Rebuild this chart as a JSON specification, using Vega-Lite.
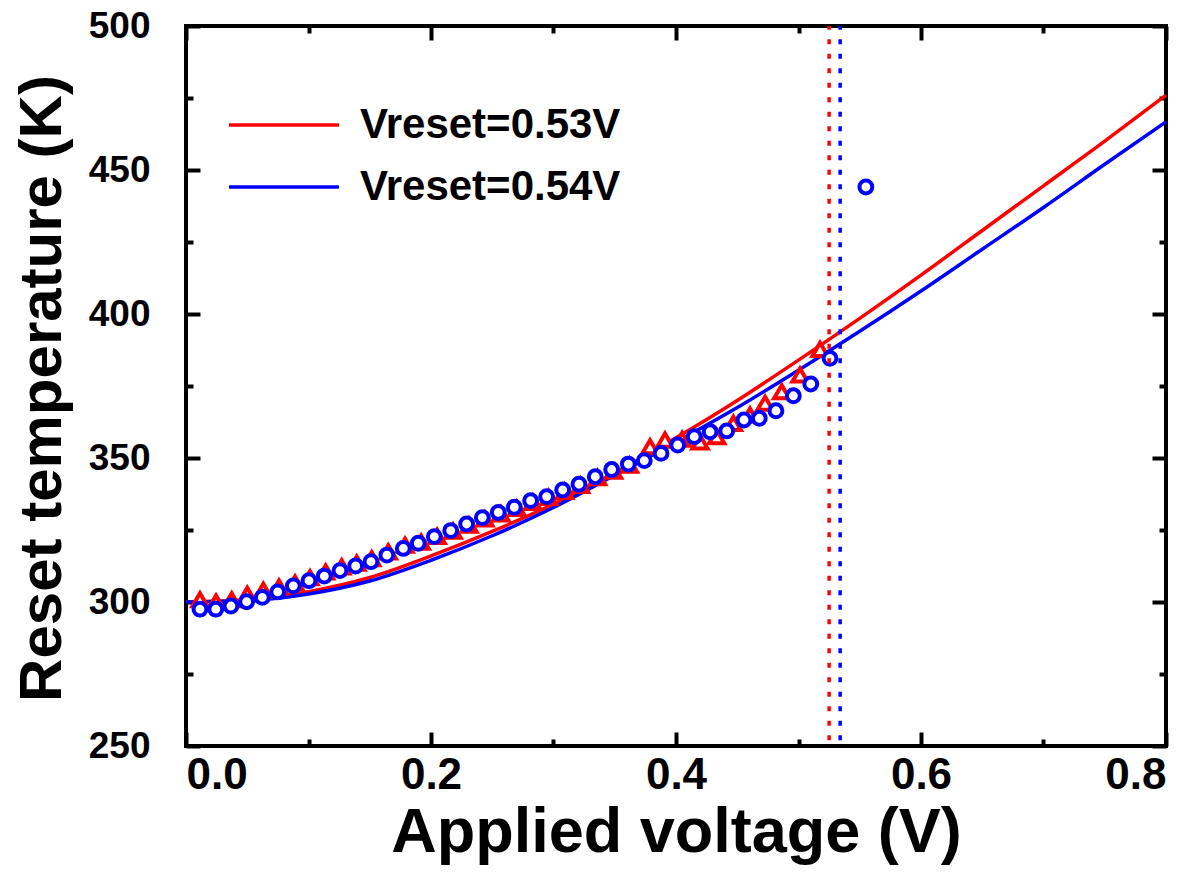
{
  "$schema": "https://vega.github.io/schema/vega-lite/v6.json",
  "width": 980,
  "height": 720,
  "autosize": {"type": "none"},
  "padding": {"left": 186, "top": 26, "right": 34, "bottom": 140},
  "background": "white",
  "config": {
    "view": {"stroke": "black", "strokeWidth": 4},
    "axis": {"domain": false, "grid": false, "tickColor": "black", "tickWidth": 4, "labelColor": "black", "titleColor": "black"}
  },
  "datasets": {
    "model": [
      {"v": 0.00, "T": 300.0, "series": "Vreset=0.53V"},
      {"v": 0.05, "T": 300.9, "series": "Vreset=0.53V"},
      {"v": 0.10, "T": 303.6, "series": "Vreset=0.53V"},
      {"v": 0.15, "T": 308.5, "series": "Vreset=0.53V"},
      {"v": 0.20, "T": 316.0, "series": "Vreset=0.53V"},
      {"v": 0.25, "T": 324.5, "series": "Vreset=0.53V"},
      {"v": 0.30, "T": 334.0, "series": "Vreset=0.53V"},
      {"v": 0.35, "T": 344.8, "series": "Vreset=0.53V"},
      {"v": 0.40, "T": 357.0, "series": "Vreset=0.53V"},
      {"v": 0.45, "T": 370.0, "series": "Vreset=0.53V"},
      {"v": 0.50, "T": 384.0, "series": "Vreset=0.53V"},
      {"v": 0.55, "T": 398.5, "series": "Vreset=0.53V"},
      {"v": 0.60, "T": 413.5, "series": "Vreset=0.53V"},
      {"v": 0.65, "T": 429.0, "series": "Vreset=0.53V"},
      {"v": 0.70, "T": 444.5, "series": "Vreset=0.53V"},
      {"v": 0.75, "T": 460.0, "series": "Vreset=0.53V"},
      {"v": 0.80, "T": 476.0, "series": "Vreset=0.53V"},
      {"v": 0.00, "T": 300.0, "series": "Vreset=0.54V"},
      {"v": 0.05, "T": 300.5, "series": "Vreset=0.54V"},
      {"v": 0.10, "T": 302.8, "series": "Vreset=0.54V"},
      {"v": 0.15, "T": 307.3, "series": "Vreset=0.54V"},
      {"v": 0.20, "T": 314.5, "series": "Vreset=0.54V"},
      {"v": 0.25, "T": 323.0, "series": "Vreset=0.54V"},
      {"v": 0.30, "T": 332.8, "series": "Vreset=0.54V"},
      {"v": 0.35, "T": 344.0, "series": "Vreset=0.54V"},
      {"v": 0.40, "T": 355.5, "series": "Vreset=0.54V"},
      {"v": 0.45, "T": 367.5, "series": "Vreset=0.54V"},
      {"v": 0.50, "T": 380.5, "series": "Vreset=0.54V"},
      {"v": 0.55, "T": 394.0, "series": "Vreset=0.54V"},
      {"v": 0.60, "T": 408.0, "series": "Vreset=0.54V"},
      {"v": 0.65, "T": 422.5, "series": "Vreset=0.54V"},
      {"v": 0.70, "T": 437.0, "series": "Vreset=0.54V"},
      {"v": 0.75, "T": 452.0, "series": "Vreset=0.54V"},
      {"v": 0.80, "T": 466.7, "series": "Vreset=0.54V"}
    ],
    "triangles": [
      {"v": 0.0114, "T": 300.8}, {"v": 0.0245, "T": 300.0}, {"v": 0.0373, "T": 300.8},
      {"v": 0.0500, "T": 302.7}, {"v": 0.0631, "T": 304.1}, {"v": 0.0759, "T": 305.2},
      {"v": 0.0890, "T": 306.6}, {"v": 0.1012, "T": 308.4}, {"v": 0.1140, "T": 310.4},
      {"v": 0.1271, "T": 312.2}, {"v": 0.1394, "T": 313.5}, {"v": 0.1516, "T": 315.0},
      {"v": 0.1651, "T": 317.4}, {"v": 0.1788, "T": 319.7}, {"v": 0.1920, "T": 320.8},
      {"v": 0.2050, "T": 322.8}, {"v": 0.2180, "T": 324.6}, {"v": 0.2310, "T": 326.7},
      {"v": 0.2440, "T": 328.8}, {"v": 0.2570, "T": 330.6}, {"v": 0.2700, "T": 332.5},
      {"v": 0.2830, "T": 334.6}, {"v": 0.2960, "T": 336.3}, {"v": 0.3090, "T": 338.4},
      {"v": 0.3220, "T": 340.5}, {"v": 0.3360, "T": 343.2}, {"v": 0.3490, "T": 345.4},
      {"v": 0.3620, "T": 347.5}, {"v": 0.3788, "T": 353.9}, {"v": 0.3910, "T": 356.2},
      {"v": 0.4050, "T": 356.5}, {"v": 0.4196, "T": 355.6}, {"v": 0.4332, "T": 357.4},
      {"v": 0.4468, "T": 362.0}, {"v": 0.4604, "T": 364.9}, {"v": 0.4727, "T": 369.0},
      {"v": 0.4863, "T": 373.0}, {"v": 0.5012, "T": 378.8}, {"v": 0.5176, "T": 387.7}
    ],
    "circles": [
      {"v": 0.0114, "T": 297.5}, {"v": 0.0243, "T": 297.5}, {"v": 0.0367, "T": 298.6},
      {"v": 0.0495, "T": 300.1}, {"v": 0.0623, "T": 301.6}, {"v": 0.0749, "T": 303.5},
      {"v": 0.0876, "T": 305.6}, {"v": 0.1004, "T": 307.4}, {"v": 0.1129, "T": 309.0},
      {"v": 0.1257, "T": 310.9}, {"v": 0.1385, "T": 312.5}, {"v": 0.1510, "T": 314.0},
      {"v": 0.1640, "T": 316.3}, {"v": 0.1774, "T": 318.6}, {"v": 0.1896, "T": 320.4},
      {"v": 0.2027, "T": 322.7}, {"v": 0.2161, "T": 324.8}, {"v": 0.2291, "T": 327.1},
      {"v": 0.2419, "T": 329.3}, {"v": 0.2549, "T": 331.1}, {"v": 0.2680, "T": 332.9},
      {"v": 0.2813, "T": 335.2}, {"v": 0.2944, "T": 336.6}, {"v": 0.3075, "T": 338.9},
      {"v": 0.3208, "T": 340.9}, {"v": 0.3341, "T": 343.5}, {"v": 0.3475, "T": 346.0},
      {"v": 0.3611, "T": 347.9}, {"v": 0.3741, "T": 349.1}, {"v": 0.3878, "T": 351.6},
      {"v": 0.4014, "T": 354.5}, {"v": 0.4149, "T": 357.4}, {"v": 0.4278, "T": 359.1},
      {"v": 0.4414, "T": 359.4}, {"v": 0.4555, "T": 363.2}, {"v": 0.4680, "T": 363.8},
      {"v": 0.4816, "T": 366.4}, {"v": 0.4958, "T": 371.6}, {"v": 0.5100, "T": 375.7},
      {"v": 0.5257, "T": 384.6}, {"v": 0.5550, "T": 444.1}
    ],
    "vreset": [
      {"v": 0.525, "series": "Vreset=0.53V"},
      {"v": 0.534, "series": "Vreset=0.54V"}
    ]
  },
  "layer": [
    {
      "data": {"name": "model"},
      "mark": {"type": "line", "strokeWidth": 3.5, "interpolate": "monotone"},
      "encoding": {
        "x": {"field": "v", "type": "quantitative",
              "scale": {"domain": [0, 0.8], "nice": false, "zero": false},
              "axis": {"orient": "bottom", "values": [0, 0.2, 0.4, 0.6, 0.8], "format": ".1f", "tickSize": -14, "labelPadding": 21,
                       "labelFont": "Liberation Sans", "labelFontWeight": "bold", "labelFontSize": 44,
                       "title": "Applied voltage (V)", "titleFont": "Liberation Sans", "titleFontWeight": "bold", "titleFontSize": 63,
                       "titleBaseline": "alphabetic", "titleY": 105, "titleX": 490, "titleAnchor": "middle"}},
        "y": {"field": "T", "type": "quantitative",
              "scale": {"domain": [250, 500], "nice": false, "zero": false},
              "axis": {"orient": "left", "values": [250, 300, 350, 400, 450, 500], "tickSize": -14, "labelPadding": 50,
                       "labelFont": "Liberation Sans", "labelFontWeight": "bold", "labelFontSize": 37,
                       "title": "Reset temperature (K)", "titleFont": "Liberation Sans", "titleFontWeight": "bold", "titleFontSize": 60,
                       "titleAngle": -90, "titleBaseline": "alphabetic", "titleX": -126, "titleY": 362, "titleAnchor": "middle"}},
        "stroke": {"field": "series", "type": "nominal",
                   "scale": {"domain": ["Vreset=0.53V", "Vreset=0.54V"], "range": ["#ff0000", "#0000ff"]},
                   "legend": {"orient": "none", "legendX": 77, "legendY": 78, "title": null, "padding": 0,
                              "symbolType": "M-5,0L5,0", "symbolSize": 484, "symbolStrokeWidth": 3.5,
                              "labelOffset": 55, "rowPadding": 20, "labelFontSize": 42, "labelFontWeight": "bold",
                              "labelFont": "Liberation Sans", "labelColor": "black", "labelLimit": 0}}
      }
    },
    {
      "data": {"name": "triangles"},
      "mark": {"type": "point", "shape": "triangle-up", "filled": false, "fill": "white", "fillOpacity": 1, "stroke": "#ff0000", "strokeWidth": 4, "size": 230, "opacity": 1},
      "encoding": {
        "x": {"field": "v", "type": "quantitative",
              "axis": {"orient": "bottom", "values": [0.1, 0.3, 0.5, 0.7], "tickSize": -7, "labels": false, "title": null}},
        "y": {"field": "T", "type": "quantitative",
              "axis": {"orient": "left", "values": [275, 325, 375, 425, 475], "tickSize": -7, "labels": false, "title": null}}
      }
    },
    {
      "data": {"name": "circles"},
      "mark": {"type": "point", "shape": "circle", "filled": false, "fill": "white", "fillOpacity": 1, "stroke": "#0000ff", "strokeWidth": 4, "size": 165, "opacity": 1},
      "encoding": {
        "x": {"field": "v", "type": "quantitative",
              "axis": {"orient": "top", "values": [0, 0.2, 0.4, 0.6, 0.8], "tickSize": -14, "labels": false, "title": null}},
        "y": {"field": "T", "type": "quantitative",
              "axis": {"orient": "right", "values": [250, 300, 350, 400, 450, 500], "tickSize": -14, "labels": false, "title": null}}
      }
    },
    {
      "data": {"name": "vreset"},
      "mark": {"type": "rule", "strokeWidth": 3.5, "strokeDash": [5, 9.5]},
      "encoding": {
        "x": {"field": "v", "type": "quantitative",
              "axis": {"orient": "top", "values": [0.1, 0.3, 0.5, 0.7], "tickSize": -7, "labels": false, "title": null}},
        "y": {"datum": 252,
              "axis": {"orient": "right", "values": [275, 325, 375, 425, 475], "tickSize": -7, "labels": false, "title": null}},
        "y2": {"datum": 500},
        "color": {"field": "series", "type": "nominal", "scale": {"domain": ["Vreset=0.53V", "Vreset=0.54V"], "range": ["#ff0000", "#0000ff"]}, "legend": null}
      }
    }
  ],
  "resolve": {"axis": {"x": "independent", "y": "independent"}}
}
